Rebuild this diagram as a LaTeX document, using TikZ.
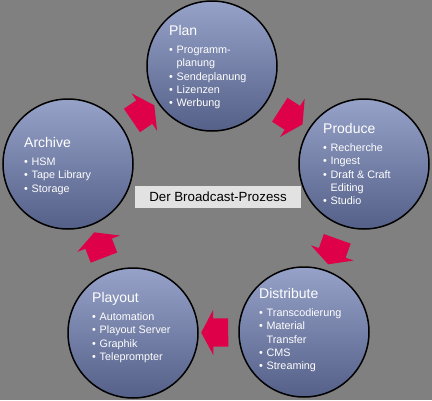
\documentclass[tikz,border=0pt]{standalone}
\usepackage{fontspec}
\setmainfont{Liberation Sans}
\usepackage{tikz}
\usetikzlibrary{shapes.arrows, shadows}
\definecolor{bggray}{RGB}{128,128,128}
\definecolor{arrowred}{RGB}{222,0,72}
\definecolor{circtop}{RGB}{150,162,200}
\definecolor{circbot}{RGB}{84,96,136}
\definecolor{bannergray}{RGB}{226,226,226}
\tikzstyle{stage} = [circle, minimum size=130pt, draw=black, line width=1.5pt, top color=circtop, bottom color=circbot, drop shadow={shadow xshift=1pt, shadow yshift=-1.5pt, opacity=0.5}]
\tikzstyle{stagetext} = [anchor=north west, inner sep=0pt, align=left, text=white, font=\fontsize{10.8}{13.4}\selectfont]
\tikzstyle{blockarrow} = [single arrow, fill=arrowred, minimum height=27pt, inner xsep=0pt, inner ysep=14pt, single arrow head extend=8.5pt, single arrow tip angle=124, sloped, allow upside down, drop shadow={shadow xshift=1.5pt, shadow yshift=-1.5pt, opacity=0.85}]
\tikzstyle{banner} = [fill=bannergray, minimum width=166pt, minimum height=22pt, inner sep=0pt, font=\fontsize{13.3}{15}\selectfont]
\newcommand{\stagetitle}[1]{{\fontsize{14}{16}\selectfont #1}\\[4.5pt]}
\newcommand{\bul}{\makebox[7.5pt][l]{\textbullet}}
\newcommand{\ind}{\hspace*{7.5pt}}

\begin{document}
\begin{tikzpicture}[x=1pt, y=-1pt]
	\fill[bggray] (0,0) rectangle (432,400);
	\useasboundingbox (0,0) rectangle (432,400);
	% the five stages
	\node[stage] (plan) at (212,66) {};
	\node[stage] (produce) at (364,164) {};
	\node[stage] (distribute) at (304,332) {};
	\node[stage] (playout) at (133,333) {};
	\node[stage] (archive) at (68,164) {};
	% arrows between the stages
	\path (plan) -- node[blockarrow] (a1) {} (produce);
	\path (produce) -- node[blockarrow] (a2) {} (distribute);
	\path (distribute) -- node[blockarrow] (a3) {} (playout);
	\path (playout) -- node[blockarrow] (a4) {} (archive);
	\path (archive) -- node[blockarrow] (a5) {} (plan);
	% texts
	\node[stagetext] (plantext) at (169,25) {\stagetitle{Plan}\bul Programm-\\\ind planung\\\bul Sendeplanung\\\bul Lizenzen\\\bul Werbung};
	\node[stagetext] (producetext) at (323,123) {\stagetitle{Produce}\bul Recherche\\\bul Ingest\\\bul Draft \& Craft\\\ind Editing\\\bul Studio};
	\node[stagetext] (distributetext) at (259,288) {\stagetitle{Distribute}\bul Transcodierung\\\bul Material\\\ind Transfer\\\bul CMS\\\bul Streaming};
	\node[stagetext] (playouttext) at (92,292) {\stagetitle{Playout}\bul Automation\\\bul Playout Server\\\bul Graphik\\\bul Teleprompter};
	\node[stagetext] (archivetext) at (24,137) {\stagetitle{Archive}\bul HSM\\\bul Tape Library\\\bul Storage};
	\node[banner] (caption) at (218,197) {Der Broadcast-Prozess};
\end{tikzpicture}
\end{document}
